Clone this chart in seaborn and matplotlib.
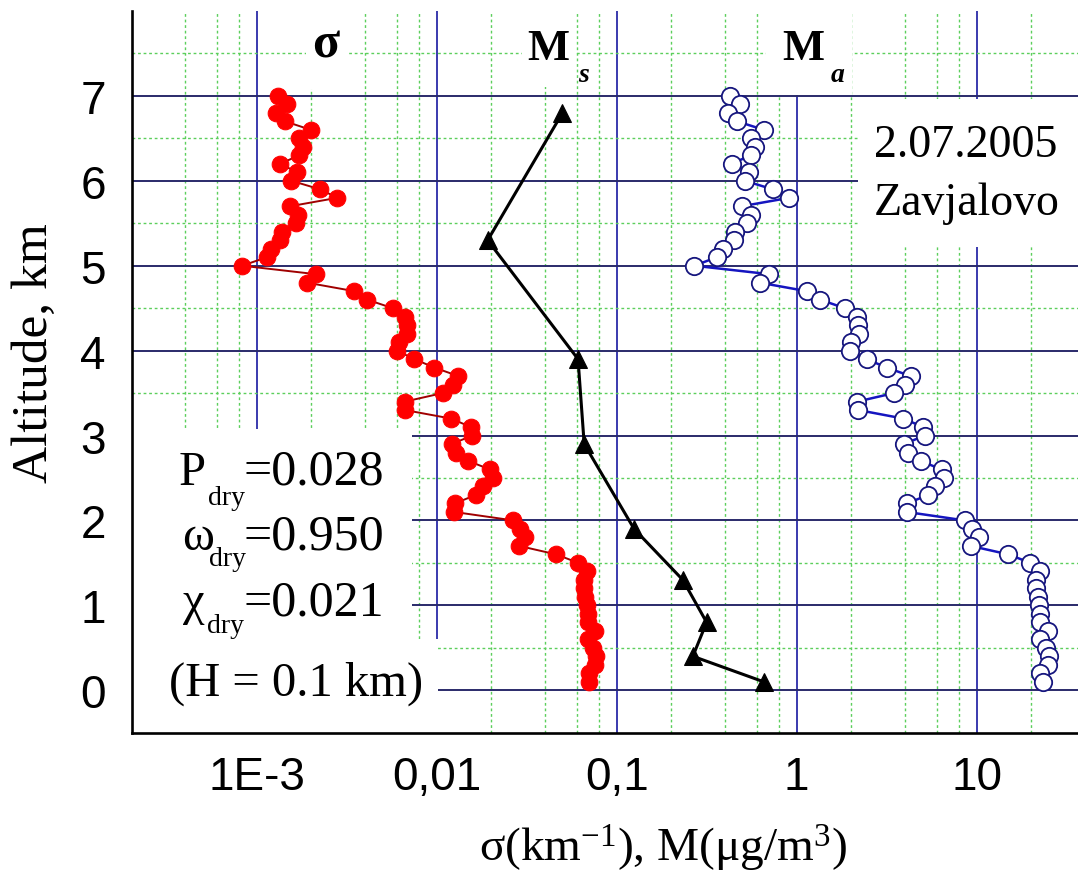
import numpy as np
import pandas as pd
import seaborn as sns
import matplotlib.pyplot as plt
from matplotlib.ticker import FixedLocator, FixedFormatter, LogLocator, NullFormatter
from matplotlib.patches import Rectangle

# altitude grid of the sounding (km), top to bottom
altitude = [7.0, 6.9, 6.8, 6.7, 6.6, 6.5, 6.4, 6.3, 6.2, 6.1,
            6.0, 5.9, 5.8, 5.7, 5.6, 5.5, 5.4, 5.3, 5.2, 5.1,
            5.0, 4.9, 4.8, 4.7, 4.6, 4.5, 4.4, 4.3, 4.2, 4.1,
            4.0, 3.9, 3.8, 3.7, 3.6, 3.5, 3.4, 3.3, 3.2, 3.1,
            3.0, 2.9, 2.8, 2.7, 2.6, 2.5, 2.4, 2.3, 2.2, 2.1,
            2.0, 1.9, 1.8, 1.7, 1.6, 1.5, 1.4, 1.3, 1.2, 1.1,
            1.0, 0.9, 0.8, 0.7, 0.6, 0.5, 0.4, 0.3, 0.2, 0.1]

# sigma, km^-1
sigma = [1.31e-3, 1.47e-3, 1.28e-3, 1.44e-3, 2.00e-3, 1.72e-3, 1.80e-3, 1.72e-3, 1.35e-3, 1.68e-3,
         1.56e-3, 2.25e-3, 2.81e-3, 1.53e-3, 1.70e-3, 1.65e-3, 1.39e-3, 1.35e-3, 1.20e-3, 1.14e-3,
         8.3e-4, 2.14e-3, 1.91e-3, 3.49e-3, 4.11e-3, 5.70e-3, 6.67e-3, 6.81e-3, 6.86e-3, 6.19e-3,
         6.00e-3, 7.52e-3, 9.71e-3, 1.32e-2, 1.24e-2, 1.08e-2, 6.67e-3, 6.67e-3, 1.20e-2, 1.55e-2,
         1.58e-2, 1.21e-2, 1.28e-2, 1.50e-2, 1.98e-2, 2.05e-2, 1.80e-2, 1.65e-2, 1.26e-2, 1.25e-2,
         2.67e-2, 2.90e-2, 3.10e-2, 2.87e-2, 4.61e-2, 6.12e-2, 6.87e-2, 6.58e-2, 6.58e-2, 6.65e-2,
         6.80e-2, 6.90e-2, 6.96e-2, 7.58e-2, 6.96e-2, 7.43e-2, 7.68e-2, 7.58e-2, 7.04e-2, 7.04e-2]

# M_a, ug/m3
mass_a = [0.425, 0.484, 0.417, 0.467, 0.658, 0.555, 0.586, 0.555, 0.435, 0.545,
          0.516, 0.736, 0.91, 0.494, 0.56, 0.53, 0.457, 0.446, 0.388, 0.36,
          0.27, 0.705, 0.625, 1.14, 1.35, 1.85, 2.17, 2.2, 2.22, 2.0,
          1.97, 2.45, 3.16, 4.3, 4.0, 3.48, 2.17, 2.2, 3.91, 5.05,
          5.15, 3.95, 4.17, 4.89, 6.4, 6.6, 5.87, 5.4, 4.08, 4.08,
          8.6, 9.38, 10.3, 9.26, 15.0, 19.9, 22.5, 21.4, 21.4, 21.9,
          22.3, 22.5, 22.5, 25.0, 22.5, 24.4, 25.1, 25.0, 22.5, 23.3]

# M_s, ug/m3 (sparse profile)
ms_altitude = [6.8, 5.3, 3.9, 2.9, 1.9, 1.3, 0.8, 0.4, 0.1]
mass_s = [0.050, 0.0192, 0.061, 0.066, 0.125, 0.233, 0.316, 0.265, 0.655]

x_ticks = [1e-3, 1e-2, 1e-1, 1, 10]
x_labels = ['1E-3', '0,01', '0,1', '1', '10']
y_ticks = [0, 1, 2, 3, 4, 5, 6, 7]

sns.set_style('white')
plt.rcParams['font.family'] = ['Liberation Sans', 'DejaVu Sans']
plt.rcParams['text.color'] = 'black'
plt.rcParams['axes.labelcolor'] = 'black'
plt.rcParams['axes.edgecolor'] = 'black'
plt.rcParams['xtick.color'] = 'black'
plt.rcParams['ytick.color'] = 'black'
plt.rcParams['mathtext.fontset'] = 'custom'
plt.rcParams['mathtext.rm'] = 'Liberation Serif'
plt.rcParams['mathtext.it'] = 'Liberation Serif:italic'
plt.rcParams['mathtext.bf'] = 'Liberation Serif:bold'
serif = ['Liberation Serif', 'DejaVu Serif']

W, H = 1078, 878
fig = plt.figure(figsize=(W / 100, H / 100), dpi=100)
pos = [132.3 / W, (H - 733.7) / H, (W - 132.3) / W, (733.7 - 12) / H]
gax = fig.add_axes(pos)   # grid only, sits behind
ax = fig.add_axes(pos)    # data, ticks, spines

for a in (gax, ax):
    a.set_xscale('log')
    a.xaxis.set_major_locator(FixedLocator(x_ticks))
    a.xaxis.set_minor_locator(LogLocator(base=10, subs=(2, 4, 6, 8), numticks=40))
    a.yaxis.set_major_locator(FixedLocator(y_ticks))
    a.yaxis.set_minor_locator(FixedLocator(np.arange(0.5, 8, 1)))

gax.xaxis.grid(True, which='major', color='#2b2ba8', lw=1.3, ls='-')
gax.yaxis.grid(True, which='major', color='#2a2a6a', lw=1.4, ls='-')
gax.grid(True, which='minor', color='#5ccf5c', lw=1.0, ls=(0, (2, 2)))
gax.tick_params(which='both', length=0, labelbottom=False, labelleft=False)
for s in gax.spines.values():
    s.set_visible(False)

ax.patch.set_visible(False)


def cover(x0, y0, x1, y1):
    # white background behind the text blocks (pixel coords from top-left)
    ax.add_patch(Rectangle((x0 / W, 1 - y1 / H), (x1 - x0) / W, (y1 - y0) / H,
                           transform=fig.transFigure, facecolor='white',
                           edgecolor='none', zorder=1))


cover(306, 12, 347, 90)
cover(522, 12, 576, 88)
cover(766, 12, 852, 96)
cover(858, 100, 1078, 248)
cover(132, 430, 412, 734)
cover(132, 640, 438, 734)

prof = pd.DataFrame({'altitude': altitude, 'sigma': sigma, 'Ma': mass_a})
ms = pd.DataFrame({'altitude': ms_altitude, 'Ms': mass_s})

sns.lineplot(data=prof, x='sigma', y='altitude', sort=False, estimator=None, ax=ax,
             color='#a00000', lw=1.4, marker='o', markersize=12,
             markerfacecolor='#ff0000', markeredgecolor='#ff0000', zorder=3)
sns.lineplot(data=ms, x='Ms', y='altitude', sort=False, estimator=None, ax=ax,
             color='black', lw=2.2, marker='^', markersize=13.5,
             markerfacecolor='black', markeredgecolor='black', zorder=3)
sns.lineplot(data=prof, x='Ma', y='altitude', sort=False, estimator=None, ax=ax,
             color='#1515c0', lw=1.8, marker='o', markersize=12.5,
             markerfacecolor='white', markeredgecolor='#16167e',
             markeredgewidth=1.3, zorder=3)

for a in (gax, ax):
    a.set_xlim(10 ** -3.691, 10 ** 1.563)
    a.set_ylim(-0.5, 8)

ax.spines[['top', 'right']].set_visible(False)
ax.spines[['left', 'bottom']].set_linewidth(1.9)
ax.spines[['left', 'bottom']].set_color('black')
ax.xaxis.set_major_formatter(FixedFormatter(x_labels))
ax.xaxis.set_minor_formatter(NullFormatter())
ax.tick_params(which='major', direction='in', length=13.5, width=1.6, labelsize=33,
               color='black', labelcolor='black')
ax.tick_params(which='minor', direction='in', length=7, width=1.6, color='black')
ax.tick_params(axis='y', which='major', pad=19)
ax.tick_params(axis='x', which='major', pad=16)

ax.set_xlabel('σ(km$^{-1}$), M(μg/m$^{3}$)', family=serif, fontsize=34, color='black')
ax.xaxis.set_label_coords(0.561, -0.124)
ax.set_ylabel('Altitude, km', family=serif, fontsize=37, color='black')
ax.yaxis.label.set_va('center')
ax.yaxis.set_label_coords(-0.103, 0.527)


def label(x, y, s, **kw):
    fig.text(x / W, 1 - y / H, s, va='baseline', ha='left', family=serif,
             color='black', **kw)


label(312, 58, 'σ', fontsize=36, fontweight='bold')
label(527, 60, 'M', fontsize=32, fontweight='bold')
label(578, 82, 's', fontsize=20, fontweight='bold', style='italic')
label(782, 60, 'M', fontsize=32, fontweight='bold')
label(831, 82, 'a', fontsize=20, fontweight='bold', style='italic')

label(874, 157, '2.07.2005', fontsize=33)
label(874, 215, 'Zavjalovo', fontsize=33)

label(179, 485, 'P', fontsize=35)
label(208, 505, 'dry', fontsize=20)
label(244, 485, '=0.028', fontsize=36)
label(182, 550, 'ω', fontsize=35)
label(209, 566, 'dry', fontsize=20)
label(244, 550, '=0.950', fontsize=36)
label(183, 615, 'χ', fontsize=35)
label(207, 633, 'dry', fontsize=20)
label(244, 615, '=0.021', fontsize=36)
label(169, 696, '(H = 0.1 km)', fontsize=35)

fig.savefig('out.png', dpi=100)
